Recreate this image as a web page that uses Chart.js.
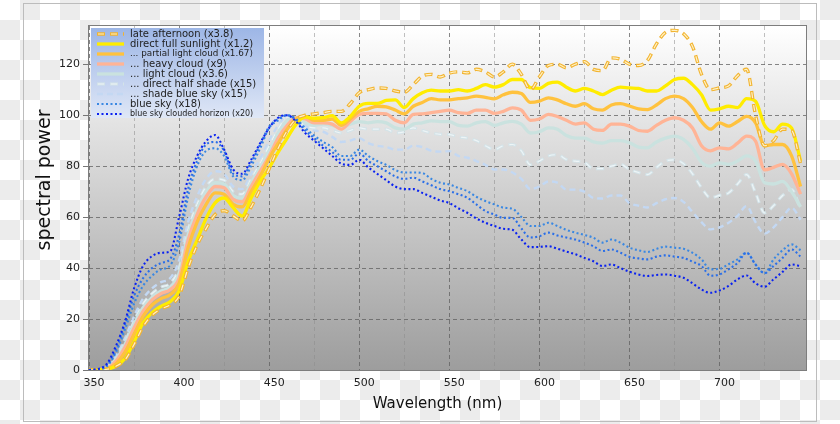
<!DOCTYPE html>
<html>
<head>
<meta charset="utf-8">
<title>spectral power</title>
<script src="https://cdn.jsdelivr.net/npm/chart.js@4/dist/chart.umd.min.js"></script>
<style>
    html, body { margin: 0; padding: 0; }
    body {
        width: 840px; height: 424px; overflow: hidden;
        background-color: #fff;
        background-image: conic-gradient(#ececec 25%, #fff 0 50%, #ececec 0 75%, #fff 0);
        background-size: 40px 40px;
    }
    canvas { display: block; }
</style>
</head>
<body>
<canvas id="spectraChart" width="840" height="424"></canvas>
<script>
// wavelength samples (nm)
const wavelengths = [
    350, 355, 360, 365, 370, 375, 380, 385, 390, 395,
    400, 405, 410, 415, 420, 425, 430, 435, 440, 445,
    450, 455, 460, 465, 470, 475, 480, 485, 490, 495,
    500, 505, 510, 515, 520, 525, 530, 535, 540, 545,
    550, 555, 560, 565, 570, 575, 580, 585, 590, 595,
    600, 605, 610, 615, 620, 625, 630, 635, 640, 645,
    650, 655, 660, 665, 670, 675, 680, 685, 690, 695,
    700, 705, 710, 715, 720, 725, 730, 735, 740, 745
];

const lateAfternoon = [
    0, 0, 0.3, 1.5, 4, 10, 17, 21.5, 24, 25.5,
    29, 40, 49, 55.5, 61, 62.5, 60.5, 58.5, 64, 71,
    79, 87, 94, 98.5, 100, 100.5, 101, 101.5, 101.5, 104.5,
    108.8, 110, 110.7, 110.5, 109.5, 109, 112, 115.3, 116, 115,
    116.5, 117, 116.6, 118, 117, 115, 117, 120, 116, 110,
    115, 119.5, 120, 118.6, 120, 121, 118, 117.5, 122.5, 122,
    120, 119.5, 121.5, 128, 132.5, 133.3, 132, 127, 116, 110,
    110.7, 111.5, 115.5, 118, 100, 88, 90, 94.5, 94, 81
];
const fullSunlight = [
    0, 0, 0.3, 1.5, 4.5, 11, 18.5, 22.5, 25, 26.8,
    31, 42.5, 51, 59.5, 65.6, 67.5, 63.7, 60.4, 67.5, 74,
    79.3, 85.5, 91, 96.5, 99.3, 98.8, 99, 99.8, 97, 99.5,
    103.5, 104.6, 104.6, 105.8, 106, 103, 106.5, 108.8, 109.8, 109.5,
    109.5, 110, 109.5, 110.5, 112, 111, 112, 114, 114, 110.8,
    110.5, 112.5, 113, 111, 109.5, 110.5, 109.5, 108.1, 109.8, 111,
    110.7, 110.5, 109.5, 109.5, 111.5, 114, 114.5, 112, 108, 102,
    102.5, 103.5, 103, 106.5, 105.5, 96, 93.5, 96.5, 95, 82
];
const partialCloud = [
    0, 0, 0.5, 2.5, 7, 14, 21, 25.5, 28, 29.5,
    34, 48, 58, 65, 69.5, 69, 65, 64, 70, 76,
    83, 89, 94.5, 98.5, 99.5, 98, 98, 98.5, 96, 98.5,
    101.5, 102.5, 103.5, 103.3, 102, 100.5, 103.5, 105, 106.5, 106,
    106, 106.5, 106.8, 107.5, 107, 106.4, 108, 109, 108.5, 105,
    105.5, 106.8, 106, 104.5, 103.5, 104.5, 102.5, 102, 104, 104.5,
    103.6, 102.5, 102.2, 104, 106.5, 107.5, 106.5, 103, 97.5, 94.5,
    97, 95.7, 97.5, 99.5, 97, 88, 88.5, 88.5, 84, 72
];
const heavyCloud = [
    0, 0, 0.7, 3.5, 9, 16.5, 23, 27.5, 30, 31.5,
    36, 51, 61, 68, 72, 71.5, 67, 66, 72, 78,
    84, 91, 96, 99, 98.5, 97, 97, 96.5, 94.5, 97.5,
    100.3, 100.7, 100.7, 100.5, 98, 97, 100.3, 100.5, 101, 101.5,
    102, 101, 100.7, 102, 102, 100.7, 101.5, 102.9, 102, 98,
    98.5, 100.3, 99.5, 98, 96.5, 97, 94.5, 94, 96.5, 96.5,
    95.7, 94, 93.7, 96, 98, 99, 98, 95, 88, 86,
    87.2, 86.8, 89, 91.8, 89.8, 78.5, 79.5, 80.7, 77, 69
];
const lightCloud = [
    0, 0, 0.8, 4, 10, 18, 24.5, 28.5, 31, 32.5,
    38, 53, 63, 70, 73.5, 73, 68.5, 67.5, 73.5, 79.5,
    86, 93, 98, 99, 97, 96, 96.5, 96, 95, 96.5,
    97.5, 97, 97.5, 97, 95, 94.5, 96.5, 97, 97.8, 97.5,
    97.5, 96, 95.7, 97, 97.5, 96, 97, 97.6, 96.5, 93,
    93.5, 95, 94.5, 92, 91, 91, 89.5, 89, 90, 90,
    89.2, 87.5, 87.2, 89.5, 91, 91.8, 90.5, 87, 81.5, 80,
    81.3, 80.7, 82, 84, 82, 73.5, 73, 74, 70, 64
];
const halfShade = [
    0, 0, 1, 4.5, 11, 19, 26, 30, 32.5, 34,
    40, 55, 65, 72, 75, 74.5, 70, 69, 75, 81,
    88, 94.5, 99, 98.5, 96, 95, 95, 94, 93, 94,
    95, 94.5, 94.5, 94.5, 93, 93.5, 95, 94, 93, 92.5,
    92.4, 91.5, 91, 90, 88, 86.5, 88, 88.5, 86, 80.5,
    82, 84, 84.5, 82.6, 82, 81.5, 79, 79, 80, 80.7,
    78.7, 77.5, 76.7, 79.5, 82, 82.5, 81, 77, 71.5, 67.6,
    68.5, 69.5, 73, 76.7, 69.5, 61.7, 64.5, 68.5, 70.8, 63
];
const shadeBlueSky = [
    0, 0, 1.2, 5.5, 12.5, 21, 28, 32, 34.5, 36,
    43, 58, 68, 75, 78, 77, 72, 71, 77, 83,
    90, 96, 99.5, 98, 96, 94, 93.5, 91.5, 89.5, 90,
    91, 89, 88, 87.5, 86.5, 86.5, 88, 87.5, 86, 85.7,
    85.9, 84, 83.3, 82, 80.5, 78.7, 78.7, 77.5, 75, 71,
    72, 74, 73.5, 70.8, 70.8, 70, 67.5, 67.3, 68.5, 68.5,
    65.5, 64.5, 63.8, 65.5, 67, 67.5, 66, 62, 58, 55.2,
    56, 57.8, 60.5, 64.3, 58, 53.5, 56, 60, 63.7, 59
];
const blueSky = [
    0, 0.2, 1.5, 7, 16, 26, 33, 37, 39.5, 41,
    50, 68, 80, 86, 87, 84, 76, 74.5, 80, 87,
    95, 98, 100, 98.5, 95, 92, 89.5, 87.5, 84, 84,
    86.5, 84, 82, 80.5, 78.5, 77.5, 77.5, 77.3, 75, 73.5,
    72.8, 71.5, 70.2, 68, 66.3, 65, 63.7, 63.3, 60, 56.5,
    56.5, 57.8, 56.5, 55, 53.9, 53, 51.9, 50, 51.2, 50,
    48, 47, 46.3, 47.5, 48.4, 48, 47.6, 46, 43.4, 39.5,
    39.7, 41.5, 43.4, 46, 41.4, 38, 43.4, 47, 49.3, 47
];
const blueSkyB = [
    0, 0.3, 2, 8, 18, 29, 36, 40, 42, 43.5,
    53, 71, 82, 88.5, 89.5, 86, 77, 76, 81.5, 88.5,
    95.5, 98.5, 100, 98, 94, 91, 88, 85.5, 82.5, 82.5,
    85, 82, 80, 78, 76, 75, 75.5, 74, 72.5, 71,
    70.2, 69, 67.6, 65, 62.4, 61, 59.7, 59.7, 55.5, 52,
    52.5, 53.9, 52.8, 52, 51.2, 50, 48.6, 46.7, 47.3, 46,
    44.4, 43.8, 43.4, 44.5, 45, 44.5, 44, 42.5, 40.8, 37,
    37.5, 39.5, 42, 46, 41.4, 38, 40.8, 44, 47.3, 44.5
];
const cloudedHorizon = [
    0, 0.4, 2.5, 9.5, 19, 32, 40.8, 44.7, 46, 46.5,
    60, 75, 84, 89.8, 92.2, 86.5, 78.7, 77, 82.5, 89,
    95, 99, 100, 97.5, 93, 90, 87, 84, 81, 80.5,
    82.5, 79.5, 77, 74.5, 72, 71, 71, 69.5, 68, 66.5,
    65.5, 63.5, 61.7, 59.5, 57.8, 56.5, 55.4, 55, 51.2, 48.2,
    48.3, 48.6, 47.6, 46.5, 45.4, 44, 42.7, 40.8, 41.4, 40,
    38.6, 37.5, 36.9, 37.3, 37.5, 37, 36.2, 34, 31.6, 30.3,
    31.2, 33, 35.6, 37.1, 34, 32.7, 35.6, 38.5, 41.4, 40.8
];

const yTicks = [0, 20, 40, 60, 80, 100, 120];
const xLabels = [350, 400, 450, 500, 550, 600, 650, 700];

const legendLabels = [
    'late afternoon (x3.8)',
    'direct full sunlight (x1.2)',
    '... partial light cloud (x1.67)',
    '... heavy cloud (x9)',
    '... light cloud (x3.6)',
    '... direct half shade (x15)',
    '... shade blue sky (x15)',
    'blue sky (x18)',
    'blue sky clouded horizon (x20)'
];

// line looks
const styles = {
    late:    { color: '#f2b431', width: 3.4, dash: [8, 5], inner: '#fff1c4' },
    sun:     { color: '#ffec00', width: 3.3, dash: [] },
    partial: { color: '#ffc23e', width: 3.3, dash: [] },
    heavy:   { color: '#ffb496', width: 3.3, dash: [] },
    light:   { color: '#cae2df', width: 3.3, dash: [] },
    half:    { color: '#d3e3e8', width: 3.0, dash: [8, 5], inner: '#eef4f6' },
    shade:   { color: '#c3d8f3', width: 2.4, dash: [6, 4] },
    sky:     { color: '#3a88e2', width: 2.1, dash: [2, 2.5] },
    skyB:    { color: '#2b6fe8', width: 2.1, dash: [2, 2.5] },
    horizon: { color: '#0a22f0', width: 2.1, dash: [2, 2.5] }
};
const legendStyles = ['late', 'sun', 'partial', 'heavy', 'light', 'half', 'shade', 'sky', 'horizon'];
const legendSizes = [10, 10, 8.8, 10, 10, 10, 10, 10, 8];

function toPoints(values) {
    return wavelengths.map((w, i) => ({ x: w, y: values[i] }));
}

function series(values, style, inner) {
    const st = styles[style];
    return {
        data: toPoints(values),
        borderColor: inner ? st.inner : st.color,
        borderWidth: inner ? 1.2 : st.width,
        borderDash: inner ? [6, 7] : st.dash,
        borderDashOffset: inner ? -1 : 0,
        pointRadius: 0,
        fill: false,
        cubicInterpolationMode: 'monotone'
    };
}

// first dataset ends up on top
const datasets = [
    series(cloudedHorizon, 'horizon'),
    series(blueSkyB, 'skyB'),
    series(blueSky, 'sky'),
    series(lateAfternoon, 'late', true),
    series(lateAfternoon, 'late'),
    series(fullSunlight, 'sun'),
    series(partialCloud, 'partial'),
    series(heavyCloud, 'heavy'),
    series(lightCloud, 'light'),
    series(halfShade, 'half', true),
    series(halfShade, 'half'),
    series(shadeBlueSky, 'shade')
];

const frameAndTitles = {
    id: 'frameAndTitles',
    beforeDraw(chart) {
        const { ctx, chartArea: a } = chart;
        ctx.save();
        ctx.strokeStyle = '#bcbcbc';
        ctx.lineWidth = 1;
        ctx.strokeRect(23.5, 3.5, 793, 418);
        const g = ctx.createLinearGradient(0, a.top, 0, a.bottom);
        g.addColorStop(0, '#ffffff');
        g.addColorStop(1, '#9d9d9d');
        ctx.fillStyle = g;
        ctx.fillRect(a.left, a.top, a.right - a.left, a.bottom - a.top);
        ctx.restore();
    },
    afterDatasetsDraw(chart) {
        // legend box
        const ctx = chart.ctx;
        ctx.save();
        const g = ctx.createLinearGradient(0, 28, 0, 118);
        g.addColorStop(0, '#9db6e6');
        g.addColorStop(1, '#dfe7f6');
        ctx.fillStyle = g;
        ctx.fillRect(91, 28, 173, 90);
        legendLabels.forEach((label, i) => {
            const st = styles[legendStyles[i]];
            const y = 34 + i * 10;
            ctx.beginPath();
            ctx.moveTo(97, y);
            ctx.lineTo(124, y);
            ctx.setLineDash(st.dash);
            ctx.lineWidth = st.width;
            ctx.strokeStyle = st.color;
            ctx.stroke();
            if (st.inner) {
                ctx.setLineDash([6, 7]);
                ctx.lineDashOffset = -1;
                ctx.lineWidth = 1.2;
                ctx.strokeStyle = st.inner;
                ctx.stroke();
                ctx.lineDashOffset = 0;
            }
            ctx.setLineDash([]);
            ctx.font = legendSizes[i] + 'px "DejaVu Sans"';
            ctx.fillStyle = '#222';
            ctx.textBaseline = 'middle';
            ctx.textAlign = 'left';
            ctx.fillText(label, 130, y);
        });
        ctx.restore();
    },
    afterDraw(chart) {
        const { ctx, chartArea: a } = chart;
        ctx.save();
        ctx.strokeStyle = '#7d7d7d';
        ctx.lineWidth = 1;
        ctx.strokeRect(Math.round(a.left) - 0.5, Math.round(a.top) - 0.5,
            Math.round(a.right - a.left) + 1, Math.round(a.bottom - a.top) + 1);
        ctx.fillStyle = '#111';
        ctx.textAlign = 'center';
        ctx.textBaseline = 'middle';
        ctx.font = '15px "DejaVu Sans"';
        ctx.fillText('Wavelength (nm)', 437.5, 404);
        ctx.translate(45, 180);
        ctx.rotate(-Math.PI / 2);
        ctx.font = '19px "DejaVu Sans"';
        ctx.fillText('spectral power', 0, 0);
        ctx.restore();
    }
};

const tickFont = { family: 'DejaVu Sans', size: 11 };

new Chart(document.getElementById('spectraChart'), {
    type: 'line',
    data: { datasets: datasets },
    plugins: [frameAndTitles],
    options: {
        responsive: false,
        animation: false,
        devicePixelRatio: 1,
        layout: { padding: { left: 0, top: 26, right: 34, bottom: 0 } },
        plugins: { legend: { display: false }, tooltip: { enabled: false } },
        scales: {
            x: {
                type: 'linear',
                min: 350,
                max: 748,
                afterBuildTicks: s => { s.ticks = s.ticks.filter(t => t.value % 25 === 0); },
                afterFit: s => { s.height = 54; },
                ticks: {
                    stepSize: 25,
                    autoSkip: false,
                    maxRotation: 0,
                    labelOffset: 5,
                    padding: 7,
                    color: '#222',
                    font: tickFont,
                    callback: v => xLabels.includes(v) ? String(v) : ''
                },
                grid: {
                    color: c => (c.tick && c.tick.value % 50 === 0) ? 'rgba(95,95,95,0.75)' : 'rgba(140,140,140,0.55)',
                    drawTicks: false
                },
                border: { display: false, dash: [4, 3] }
            },
            y: {
                min: 0,
                max: 135,
                afterBuildTicks: s => { s.ticks = yTicks.map(v => ({ value: v })); },
                afterFit: s => { s.width = 89; },
                ticks: { color: '#222', font: tickFont, padding: 3 },
                grid: {
                    color: c => (c.tick && c.tick.value === 0) ? 'rgba(0,0,0,0)' : 'rgba(95,95,95,0.75)',
                    tickColor: '#777',
                    tickLength: 6
                },
                border: { display: false, dash: [4, 3] }
            }
        }
    }
});
</script>
</body>
</html>
